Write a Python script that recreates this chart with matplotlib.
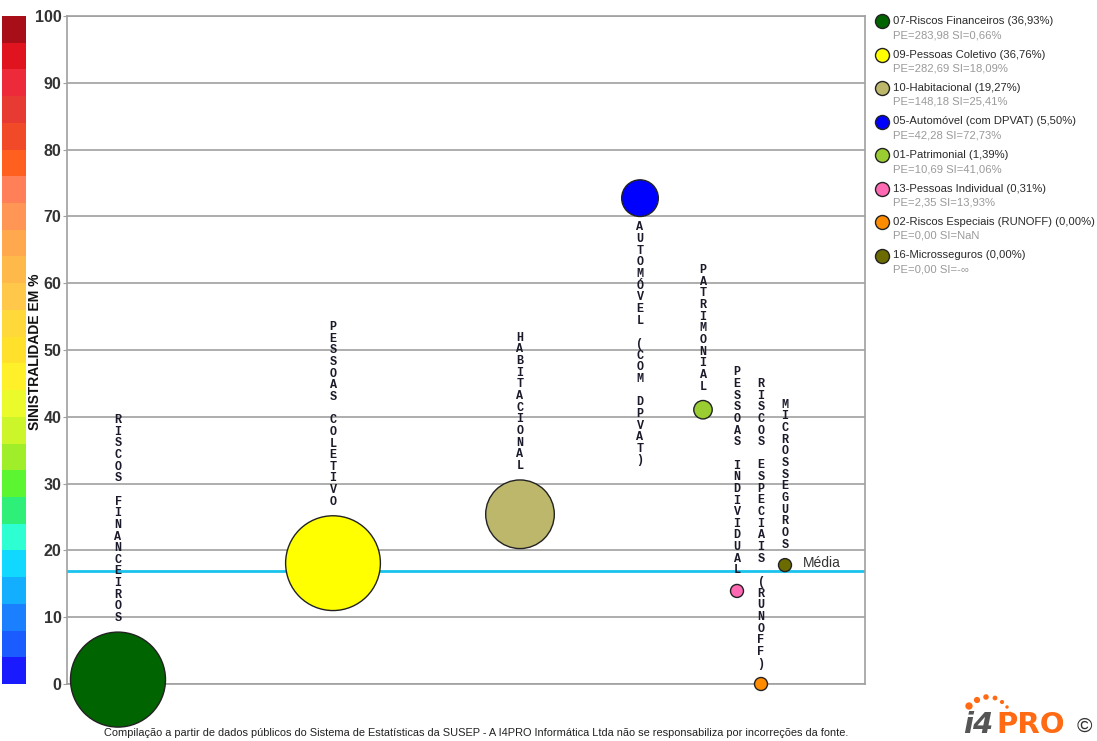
import numpy as np
import matplotlib.pyplot as plt

plt.rcParams['font.family'] = ['Liberation Sans', 'DejaVu Sans']

# data
codes = ['07', '09', '10', '05', '01', '13', '02', '16']
names = ['Riscos Financeiros', 'Pessoas Coletivo', 'Habitacional', 'Automóvel (com DPVAT)',
         'Patrimonial', 'Pessoas Individual', 'Riscos Especiais (RUNOFF)', 'Microsseguros']
share = ['36,93', '36,76', '19,27', '5,50', '1,39', '0,31', '0,00', '0,00']
pe = [283.98, 282.69, 148.18, 42.28, 10.69, 2.35, 0.0, 0.0]
si_text = ['0,66%', '18,09%', '25,41%', '72,73%', '41,06%', '13,93%', 'NaN', '-∞']
si_plot = [0.66, 18.09, 25.41, 72.73, 41.06, 13.93, 0.0, 17.8]
x_pos = [51, 266, 453, 573, 636, 670, 694, 718]
media = 16.9

colors = ['#006400', '#FFFF00', '#BDB76B', '#0000FF', '#9ACD32', '#FF69B4', '#FF8C00', '#6B6B00']
cb_colors = ['#1A1AFF', '#1A5CFF', '#1A80FF', '#14AEFF', '#10D8FF', '#2EFFD2', '#2EF078',
             '#5CF532', '#A0EE2A', '#CCF52A', '#EAFA2A', '#FFF02A', '#FFE02A', '#FFD83A',
             '#FFC84A', '#FFB84A', '#FFA84E', '#FF9655', '#FF8058', '#FF6020', '#F04A28',
             '#E63A32', '#EC2A3A', '#E0141E', '#A80E18']

W, H = 1097, 741
fig = plt.figure(figsize=(W / 100, H / 100), dpi=100)

# main plot
ax = fig.add_axes([67 / W, 1 - 684 / H, 798 / W, 668 / H])
ax.set_xlim(0, 798)
ax.set_ylim(0, 100)
ax.set_xticks([])
ax.set_yticks(range(0, 101, 10))
ax.yaxis.grid(True, color='#A0A0A0', lw=1.2)
ax.set_axisbelow(True)
for s in ax.spines.values():
    s.set_color('#A0A0A0')
    s.set_linewidth(1.2)
ax.tick_params(axis='y', length=3, pad=1, color='#A0A0A0', labelsize=11.5, labelcolor='#333333')
for lab in ax.get_yticklabels():
    lab.set_fontweight('bold')

ax.axhline(media, color='#19C3EE', lw=2, zorder=2)

radius = [max(47.5 * np.sqrt(p / max(pe)), 6.5) for p in pe]
sizes = [(2 * r * 0.72) ** 2 for r in radius]
ax.scatter(x_pos, si_plot, s=sizes, c=colors, edgecolors='#222222', linewidths=1,
           zorder=3, clip_on=False)

# vertical letter labels
step = 11.65 * 0.72
for x, y, r, name in zip(x_pos, si_plot, radius, names):
    chars = list(name.upper())
    n = len(chars)
    for k, ch in enumerate(chars):
        if y > 60:
            off = -(r + 11) * 0.72 - k * step
        else:
            off = (r + 14) * 0.72 + (n - 1 - k) * step
        ax.annotate(ch, (x, y), xytext=(0, off), textcoords='offset points',
                    ha='center', va='center', fontsize=8.5, fontweight='bold',
                    fontfamily='Liberation Mono', color='#1a1a2a', annotation_clip=False)

ax.annotate('Média', (x_pos[-1], media), xytext=(13, 5.8), textcoords='offset points',
            ha='left', va='center', fontsize=10, color='#333333')

# colour scale on the left
cax = fig.add_axes([2 / W, 1 - 684 / H, 24 / W, 668 / H])
cax.bar(0.5, 4, bottom=np.arange(0, 100, 4), width=1, color=cb_colors)
cax.set_xlim(0, 1)
cax.set_ylim(0, 100)
cax.axis('off')

fig.text(35 / W, 1 - 352 / H, 'SINISTRALIDADE EM %', rotation=90, fontweight='bold',
         fontsize=10, ha='center', va='center', color='#111111')

# overlay for legend, footer and logo
oax = fig.add_axes([0, 0, 1, 1])
oax.set_xlim(0, W)
oax.set_ylim(H, 0)
oax.axis('off')

for i in range(len(names)):
    y0 = 21 + 33.5 * i
    oax.scatter(882, y0, s=(14 * 0.72) ** 2, color=colors[i], edgecolors='#222222', linewidths=1)
    oax.text(893, y0, f'{codes[i]}-{names[i]} ({share[i]}%)', va='center', fontsize=8.1,
             color='#2a2a2a')
    pe_txt = f'{pe[i]:.2f}'.replace('.', ',')
    oax.text(893, y0 + 14, f'PE={pe_txt} SI={si_text[i]}', va='center', fontsize=8.1,
             color='#9a9a9a')

oax.text(476, 733, 'Compilação a partir de dados públicos do Sistema de Estatísticas da SUSEP - '
         'A I4PRO Informática Ltda não se responsabiliza por incorreções da fonte.',
         ha='center', va='center', fontsize=7.9, color='#222222')

# logo
oax.text(963, 733, 'i4', fontsize=21, fontweight='bold', style='italic', color='#555555',
         va='baseline', fontfamily='DejaVu Sans')
oax.text(996, 733, 'PRO', fontsize=21, fontweight='bold', color='#FF6A13',
         va='baseline', fontfamily='DejaVu Sans')
oax.text(1077, 732, '©', fontsize=15, color='#333333', va='baseline')
dots_x = [969, 977, 986, 995, 1002, 1007, 1010]
dots_y = [706, 700, 697, 698, 702, 707, 713]
dots_s = [28, 20, 16, 12, 9, 6, 4]
oax.scatter(dots_x, dots_y, s=dots_s, color='#FF6A13', linewidths=0)

fig.savefig('out.png', dpi=100)
